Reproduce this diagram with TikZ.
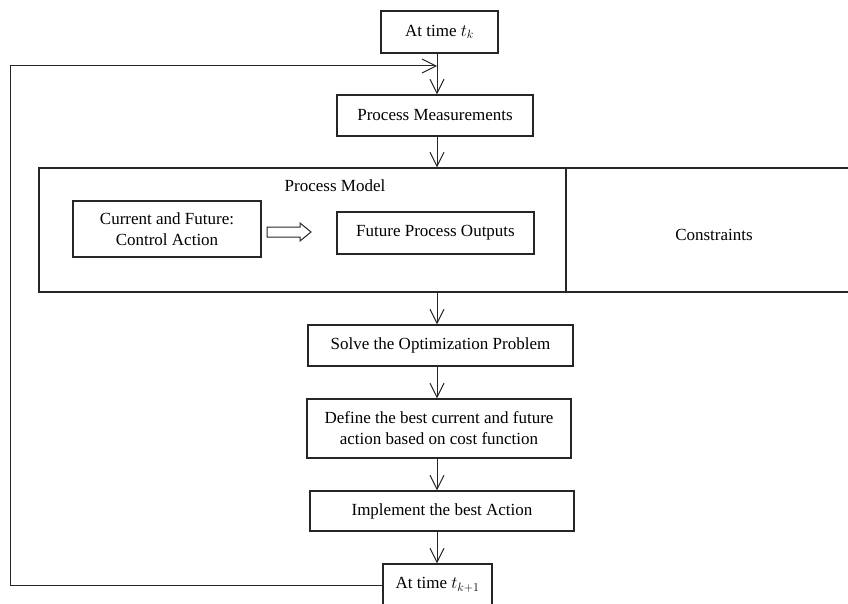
\documentclass[tikz,border=0pt]{standalone}
\usepackage{fontspec}
\setmainfont{Liberation Serif}
\usetikzlibrary{arrows.meta}

\tikzset{
  block/.style={draw=black!85,line width=1.3pt,align=center,inner sep=2pt,
    font=\fontsize{17}{21}\selectfont},
  label/.style={inner sep=0pt,font=\fontsize{17}{21}\selectfont},
  flow/.style={draw=black!85,line width=1pt,-{Straight Barb[length=14pt,width=14pt]}}
}

\begin{document}
\begin{tikzpicture}[x=1pt,y=-1pt]
    \clip (0,0) rectangle (848,604);
    \coordinate (spine) at (437,0);

    % main column
    \node[block,minimum width=117,minimum height=42] (tk)   at (439.5,32)  {At time $t_k$};
    \node[block,minimum width=196,minimum height=41] (meas) at (435,115.5) {Process Measurements};
    \node[block,minimum width=811,minimum height=124] (model) at (444.5,230) {};
    \node[block,minimum width=265,minimum height=41] (solve) at (440.5,345.5) {Solve the Optimization Problem};
    \node[block,minimum width=264,minimum height=59] (define) at (439,428.5) {Define the best current and future\\action based on cost function};
    \node[block,minimum width=264,minimum height=40] (impl) at (442,511) {Implement the best Action};
    \node[block,minimum width=109,minimum height=42] (tk1)  at (437.5,585) {At time $t_{k+1}$};

    % inside the model box
    \draw[draw=black!85,line width=1.3pt] (566,0 |- model.north) -- (566,0 |- model.south);
    \node[label] (pm)  at (335,186) {Process Model};
    \node[block,minimum width=188,minimum height=56] (cur) at (167,229) {Current and Future:\\Control Action};
    \node[block,minimum width=197,minimum height=42] (out) at (435.5,233) {Future Process Outputs};
    \node[label] (con) at (714,235) {Constraints};
    \draw[draw=black!85,line width=1pt,fill=white]
        (267,227) -- (300,227) -- (300,223) -- (311,232) -- (300,241) -- (300,237) -- (267,237) -- cycle;

    % arrows down the column
    \foreach \a/\b in {tk/meas,meas/model,model/solve,solve/define,define/impl,impl/tk1}
        \draw[flow] (spine |- \a.south) -- (spine |- \b.north);

    % feedback
    \coordinate (join) at (437,66);
    \draw[flow] (tk1.west) -- (10,0 |- tk1.west) |- (join);
\end{tikzpicture}
\end{document}
